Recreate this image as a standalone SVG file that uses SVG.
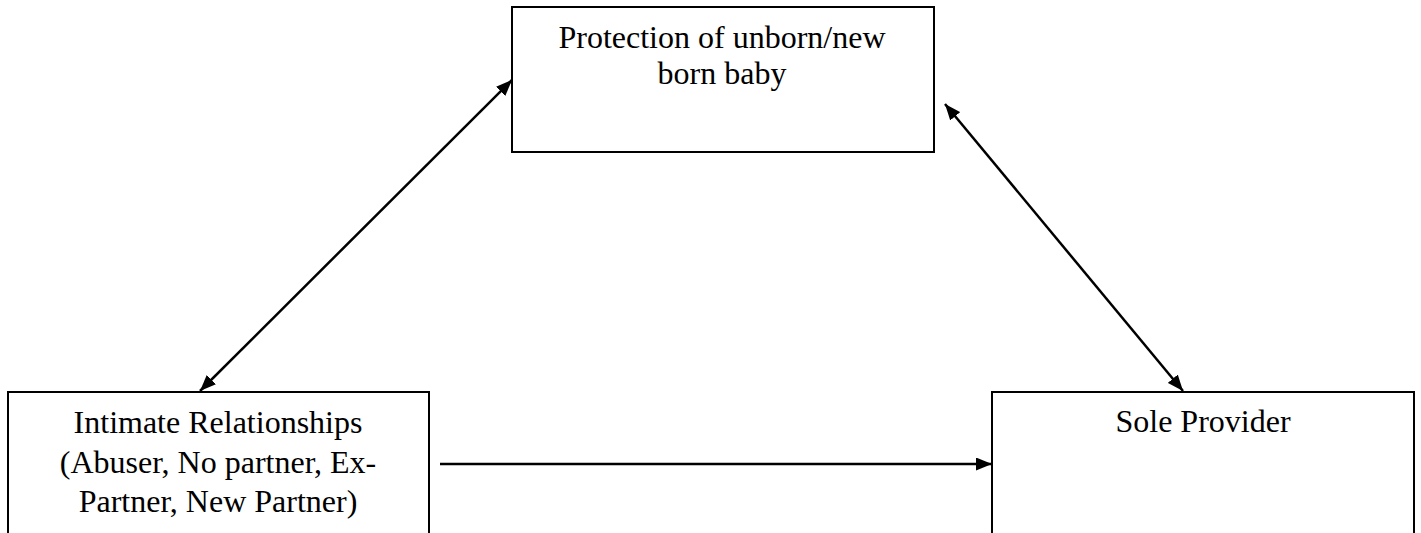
<svg xmlns="http://www.w3.org/2000/svg" width="1421" height="533" viewBox="0 0 1421 533">
<style>
.box{fill:#fff;stroke:#000;stroke-width:2}
.lbl{font-family:"Liberation Serif","Times New Roman",serif;font-size:32px;fill:#000;text-anchor:middle}
.con{stroke:#000;stroke-width:2.5;fill:none}
</style>
<defs>
<marker id="ah" markerUnits="userSpaceOnUse" markerWidth="17" markerHeight="13" refX="16" refY="6.5" orient="auto-start-reverse">
<path d="M0,0 L16,6.5 L0,13 z" fill="#000"/>
</marker>
</defs>
<rect width="1421" height="533" fill="#fff"/>
<g id="node-protection">
<rect class="box" x="512" y="7" width="422" height="145"/>
<text class="lbl" x="722" y="48">Protection of unborn/new</text>
<text class="lbl" x="722" y="84">born baby</text>
</g>
<g id="node-intimate">
<rect class="box" x="8" y="392" width="421" height="160"/>
<text class="lbl" x="218" y="433">Intimate Relationships</text>
<text class="lbl" x="218" y="473">(Abuser, No partner, Ex-</text>
<text class="lbl" x="218" y="512">Partner, New Partner)</text>
</g>
<g id="node-sole">
<rect class="box" x="992" y="392" width="422" height="160"/>
<text class="lbl" x="1203" y="432">Sole Provider</text>
</g>
<g id="connectors">
<line class="con" x1="512" y1="80" x2="200" y2="391" marker-start="url(#ah)" marker-end="url(#ah)"/>
<line class="con" x1="945" y1="104" x2="1183" y2="391" marker-start="url(#ah)" marker-end="url(#ah)"/>
<line class="con" x1="440" y1="464" x2="992" y2="464" marker-end="url(#ah)"/>
</g>
</svg>
